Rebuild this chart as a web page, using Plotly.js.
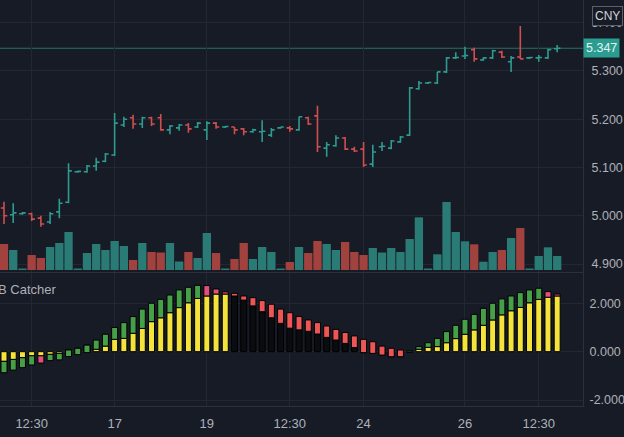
<!DOCTYPE html>
<html><head><meta charset="utf-8">
<script src="https://cdn.plot.ly/plotly-3.0.1.min.js"></script>
<style>html,body{margin:0;padding:0;background:#171b26;}#chart{width:624px;height:437px;}</style>
</head><body><div id="chart"></div>
<script>
// ---- data ----
const openP  = [5.016,5.002,5.004,5.004,4.995,4.987,5.008,5.028,5.091,5.091,5.103,5.113,5.126,5.188,5.203,5.190,5.203,5.203,5.178,5.182,5.188,5.184,5.178,5.192,5.184,5.184,5.180,5.174,5.174,5.167,5.182,5.182,5.178,5.203,5.207,5.140,5.145,5.161,5.138,5.138,5.107,5.143,5.140,5.153,5.167,5.263,5.275,5.275,5.298,5.327,5.331,5.344,5.323,5.327,5.339,5.319,5.329,5.327,5.327,5.327,5.346];
const highP  = [5.029,5.026,5.008,5.006,5.000,5.008,5.035,5.109,5.093,5.105,5.120,5.130,5.213,5.205,5.209,5.205,5.205,5.211,5.188,5.190,5.192,5.194,5.196,5.194,5.186,5.184,5.182,5.180,5.198,5.182,5.184,5.186,5.205,5.205,5.228,5.153,5.167,5.163,5.143,5.153,5.147,5.153,5.157,5.165,5.267,5.279,5.277,5.298,5.329,5.339,5.350,5.348,5.329,5.344,5.342,5.331,5.393,5.329,5.333,5.346,5.354];
const lowP   = [4.983,4.985,5.002,4.989,4.977,4.983,4.995,5.026,5.089,5.089,5.093,5.111,5.124,5.184,5.180,5.182,5.186,5.176,5.169,5.176,5.172,5.182,5.157,5.180,5.182,5.169,5.167,5.172,5.153,5.163,5.180,5.174,5.176,5.188,5.132,5.122,5.143,5.136,5.132,5.101,5.101,5.134,5.138,5.151,5.165,5.261,5.273,5.273,5.296,5.325,5.325,5.319,5.321,5.325,5.327,5.298,5.325,5.325,5.319,5.325,5.339];
const closeP = [5.000,5.006,5.006,4.993,4.983,5.004,5.026,5.093,5.092,5.103,5.111,5.128,5.192,5.200,5.190,5.203,5.190,5.178,5.186,5.188,5.180,5.192,5.192,5.184,5.185,5.178,5.174,5.178,5.175,5.178,5.184,5.180,5.205,5.190,5.143,5.147,5.161,5.138,5.134,5.105,5.132,5.144,5.155,5.163,5.265,5.275,5.276,5.298,5.327,5.328,5.332,5.325,5.327,5.342,5.329,5.327,5.325,5.328,5.328,5.344,5.347];
const volume = [26,20,1.5,15,12,23,27,38,1.5,17,26,20,29,24,10,27,18,17.5,27,8.5,18,12,37,17,1.5,11,27,11,23,18,1.5,8,23,17,29,26,20,28,18,15,22,17.5,22,18,31,52.7,1.5,15.7,68,38,28.7,25.7,8.3,18,20,32,42,1.5,14,22.7,14];
// oscillator: column value and the other edge of the box drawn on it
const oscTrend  = [-0.40,-0.32,-0.25,-0.17,-0.17,-0.11,-0.07,0.07,0.14,0.27,0.10,0.23,0.51,0.55,0.76,0.96,1.24,1.40,1.61,1.82,2.02,2.20,2.30,2.38,2.38,2.30,2.13,1.89,1.65,1.40,1.17,0.97,0.90,0.84,0.73,0.59,0.48,0.34,0.17,-0.04,-0.07,-0.14,-0.21,-0.21,-0.01,0.10,0.18,0.21,0.37,0.54,0.72,0.90,1.09,1.31,1.52,1.69,1.83,2.02,2.16,2.25,2.30];
const oscSignal = [-0.87,-0.76,-0.66,-0.55,-0.47,-0.37,-0.34,-0.20,-0.12,-0.04,0.48,0.72,1.00,1.20,1.45,1.76,2.00,2.16,2.34,2.55,2.66,2.74,2.73,2.59,2.47,2.41,2.30,2.23,2.11,1.96,1.76,1.61,1.45,1.31,1.20,1.06,0.92,0.79,0.65,0.51,0.41,0.23,0.14,0.07,0.04,0.21,0.37,0.55,0.83,1.09,1.34,1.54,1.79,2.00,2.18,2.30,2.44,2.55,2.62,2.48,2.38];
const oscTrendState  = ['up','up','up','up','up','up','up','up','up','up','up','up','up','up','up','up','up','up','up','up','up','up','up','up','up','down','down','down','down','down','down','down','down','down','down','down','down','down','down','down','down','down','down','down','up','up','up','up','up','up','up','up','up','up','up','up','up','up','up','up','up'];
const oscSignalState = ['up','up','up','up','mixed','up','up','up','up','up','up','up','up','up','up','up','up','up','up','up','up','up','mixed','mixed','mixed','down','down','down','down','down','down','down','down','down','down','down','down','down','down','down','down','down','down','down','up','up','up','up','up','up','up','up','up','up','up','up','up','up','up','mixed','mixed'];
const tickIndex = [3,12,22,31,39,50,58];
const tickText  = ['12:30','17','19','12:30','24','26','12:30'];
const priceTicks = [4.9,5.0,5.1,5.2,5.3,5.4];
const oscTicks = [-2,0,2];
const lastPrice = 5.347;
const currency = 'CNY';
const indicatorName = 'B Catcher';

// ---- styling ----
const BG='#171b26', GRID='#232734', AXLINE='#2c303c', TXT='#aeb1ba';
const TEAL='#2f9a90', RED='#cf4f4f', VTEAL='#2a7b75', VRED='#a2423f';
const FONT='"Liberation Sans",Arial,sans-serif';
const idx = closeP.map((_,i)=>i);
const volColors = closeP.map((c,i)=> c>=openP[i]?VTEAL:VRED);
const colColors = oscTrendState.map(s=> s==='up'?'#f3e33a':'#0b0c10');
const boxColors = oscSignalState.map(s=> s==='up'?'#46a047':(s==='mixed'?'#e0507a':'#ee5656'));
const XR=[-0.434,62.8];

const traces=[
 {type:'bar',x:idx,y:volume,xaxis:'x',yaxis:'y3',width:0.9,marker:{color:volColors,line:{width:0}},hoverinfo:'skip'},
 {type:'ohlc',x:idx,open:openP,high:highP,low:lowP,close:closeP,xaxis:'x',yaxis:'y',tickwidth:0.35,
  increasing:{line:{color:TEAL,width:1.6}},decreasing:{line:{color:RED,width:1.6}},hoverinfo:'skip'},
 {type:'bar',x:idx,y:oscTrend,base:0,xaxis:'x2',yaxis:'y2',width:0.65,marker:{color:colColors,line:{color:'#000',width:1}},hoverinfo:'skip'},
 {type:'bar',x:idx,y:oscSignal.map((v,i)=>v-oscTrend[i]),base:oscTrend,xaxis:'x2',yaxis:'y2',width:0.65,marker:{color:boxColors,line:{color:'#000',width:1}},hoverinfo:'skip'}
];

const axBase={showgrid:true,gridcolor:GRID,gridwidth:1,zeroline:false,ticks:'',fixedrange:true,showline:true,linecolor:AXLINE,linewidth:1};
const layout={
 width:624,height:437,margin:{l:0,r:41,t:0,b:31,pad:0},
 paper_bgcolor:BG,plot_bgcolor:BG,showlegend:false,barmode:'overlay',
 font:{family:FONT,size:12,color:TXT},
 xaxis:Object.assign({},axBase,{domain:[0,1],range:XR,anchor:'y',tickvals:tickIndex,showticklabels:false,rangeslider:{visible:false}}),
 xaxis2:Object.assign({},axBase,{domain:[0,1],range:XR,anchor:'y2',tickvals:tickIndex,ticktext:tickText,showticklabels:true,ticklabelstandoff:5,tickfont:{size:13,color:TXT}}),
 yaxis:Object.assign({},axBase,{domain:[0.3300,1],range:[4.8834,5.447],side:'right',anchor:'x',tickvals:priceTicks,ticktext:priceTicks.map(v=>v.toFixed(3)),ticklabelstandoff:5,tickfont:{size:12.5,color:TXT}}),
 yaxis2:Object.assign({},axBase,{domain:[0,0.3276],range:[-2.244,3.25],side:'right',anchor:'x2',tickvals:oscTicks,ticktext:oscTicks.map(v=>v.toFixed(3)),ticklabelstandoff:3,tickfont:{size:12.5,color:TXT}}),
 yaxis3:{overlaying:'y',range:[-2,270],visible:false,fixedrange:true},
 shapes:[{type:'line',xref:'paper',x0:0,x1:1,yref:'y',y0:lastPrice,y1:lastPrice,line:{color:'#2c6e69',width:1},layer:'between'}],
 annotations:[
  {xref:'paper',yref:'y',x:1,y:lastPrice,xanchor:'left',yanchor:'middle',text:lastPrice.toFixed(3),showarrow:false,bgcolor:'#2a9d90',borderpad:2,font:{color:'#e4f3f1',size:12.5}},
  {xref:'paper',yref:'paper',x:1,y:1,xanchor:'left',yanchor:'top',xshift:9,yshift:-6,text:currency,showarrow:false,bgcolor:BG,bordercolor:'#5d606b',borderwidth:1,borderpad:2,font:{color:'#d1d4dc',size:12}},
  {xref:'paper',yref:'paper',x:0,y:0.3276,xanchor:'left',yanchor:'top',xshift:-4,yshift:-7,text:indicatorName,showarrow:false,font:{color:TXT,size:13}}
 ]
};
Plotly.newPlot('chart',traces,layout,{displayModeBar:false,staticPlot:true});
</script></body></html>
